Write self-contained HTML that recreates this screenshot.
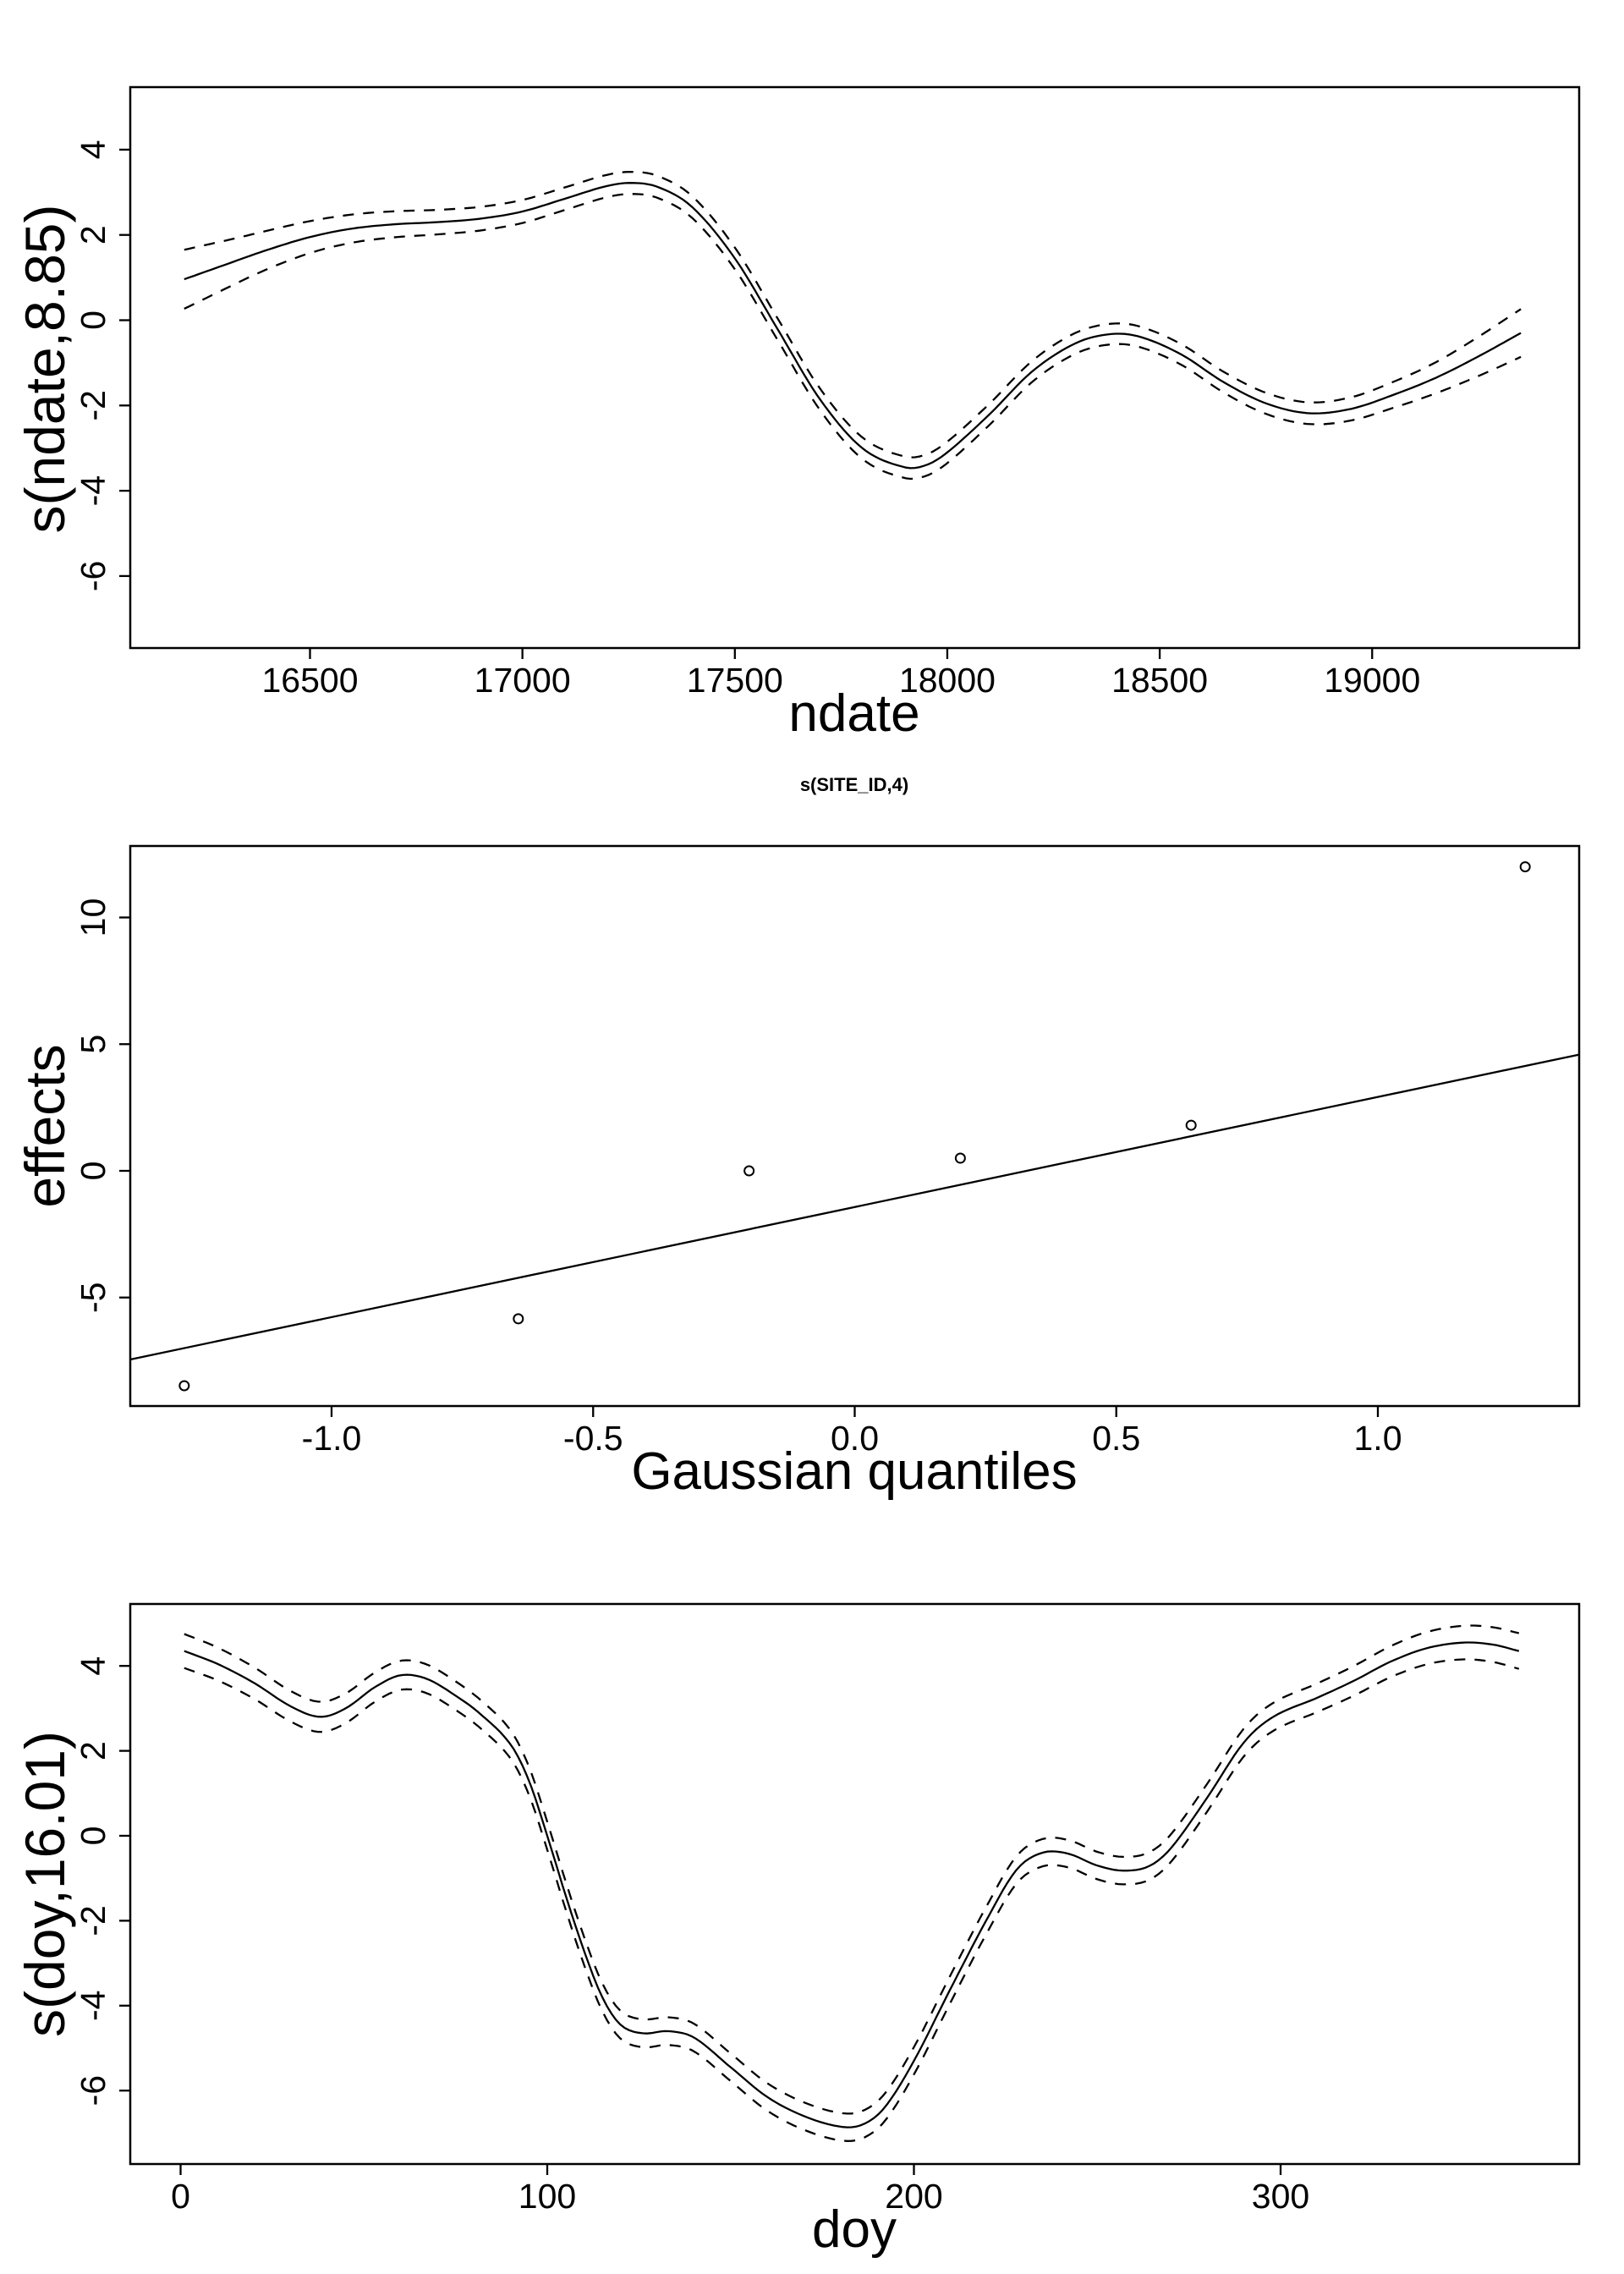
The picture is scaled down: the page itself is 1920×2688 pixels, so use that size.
<!DOCTYPE html>
<html><head><meta charset="utf-8">
<style>
html,body{margin:0;padding:0;background:#fff;}
svg{display:block;}
text{font-family:"Liberation Sans",Arial,sans-serif;fill:#000;}
</style></head>
<body>
<svg id="s" width="1920" height="2688" viewBox="0 0 1920 2688" xmlns="http://www.w3.org/2000/svg">
<rect x="0" y="0" width="1920" height="2688" fill="#fff"/>
<g id="g" fill="none" stroke="#000"></g>
<g id="t"></g>
</svg>
<script>
var NS="http://www.w3.org/2000/svg";
var G=document.getElementById('g'),T=document.getElementById('t');
function el(p,tag,a,txt){var e=document.createElementNS(NS,tag);for(var k in a)e.setAttribute(k,a[k]);if(txt!=null)e.textContent=txt;p.appendChild(e);return e;}
function line(x1,y1,x2,y2,w){el(G,'line',{x1:x1,y1:y1,x2:x2,y2:y2,'stroke-width':w||2.3});}
function text(x,y,s,size,anchor,rot,bold){var a={x:x,y:y,'font-size':size,'text-anchor':anchor||'middle'};if(rot)a.transform='rotate(-90 '+x+' '+y+')';if(bold)a['font-weight']='bold';el(T,'text',a,s);}
function interp(pts,x){
  for(var i=0;i<pts.length-1;i++){
    if(x<=pts[i+1][0]){
      var p0=pts[Math.max(i-1,0)],p1=pts[i],p2=pts[i+1],p3=pts[Math.min(i+2,pts.length-1)];
      var t=(x-p1[0])/(p2[0]-p1[0]);
      var m1=(p2[1]-p0[1])/(p2[0]-p0[0])*(p2[0]-p1[0]);
      var m2=(p3[1]-p1[1])/(p3[0]-p1[0])*(p2[0]-p1[0]);
      var t2=t*t,t3=t2*t;
      return (2*t3-3*t2+1)*p1[1]+(t3-2*t2+t)*m1+(-2*t3+3*t2)*p2[1]+(t3-t2)*m2;
    }
  }
  return pts[pts.length-1][1];
}
function curve(pts,se,X,Y,x0,x1){
  var d=['','',''];
  for(var k=0;k<=300;k++){
    var x=x0+(x1-x0)*k/300,v=interp(pts,x),s=interp(se,x);
    var c=(k?'L':'M');
    d[0]+=c+X(x).toFixed(1)+' '+Y(v).toFixed(1);
    d[1]+=c+X(x).toFixed(1)+' '+Y(v+s).toFixed(1);
    d[2]+=c+X(x).toFixed(1)+' '+Y(v-s).toFixed(1);
  }
  el(G,'path',{d:d[0],'stroke-width':2.3});
  el(G,'path',{d:d[1],'stroke-width':2.3,'stroke-dasharray':'13 11'});
  el(G,'path',{d:d[2],'stroke-width':2.3,'stroke-dasharray':'13 11'});
}
var L=154,R=1867;
function box(t,b){el(G,'rect',{x:L,y:t,width:R-L,height:b-t,'stroke-width':2.5});}
function yaxis(vals,Y,lab){vals.forEach(function(v){var y=Y(v);line(L-13,y,L,y);text(124,y,lab?lab(v):String(v),41,'middle',true);});}
function xaxis(vals,X,b,lab){vals.forEach(function(v){var x=X(v);line(x,b,x,b+13);text(x,b+52,lab?lab(v):String(v),41);});}

// ---------- Plot 1 ----------
(function(){
var T1=103,B1=766;box(T1,B1);
var X=function(d){return 366.5+(d-16500)*0.5023;},Y=function(v){return 378.5-v*50.4;};
yaxis([4,2,0,-2,-4,-6],Y);
xaxis([16500,17000,17500,18000,18500,19000],X,B1);
text(1010,864,'ndate',62);
text(76,436,'s(ndate,8.85)',66,'middle',true);
var pts=[[16204,0.96],[16300,1.3],[16400,1.65],[16500,1.95],[16600,2.15],[16700,2.25],[16800,2.3],[16900,2.38],[17000,2.55],[17100,2.85],[17200,3.15],[17260,3.22],[17320,3.12],[17400,2.65],[17500,1.45],[17600,-0.2],[17700,-1.85],[17800,-3.0],[17900,-3.45],[17950,-3.4],[18000,-3.1],[18100,-2.2],[18200,-1.2],[18300,-0.55],[18380,-0.33],[18450,-0.38],[18550,-0.8],[18650,-1.45],[18750,-1.95],[18850,-2.18],[18950,-2.08],[19050,-1.75],[19150,-1.35],[19250,-0.85],[19350,-0.3]];
var se=[[16204,0.69],[16400,0.45],[16600,0.33],[17000,0.27],[18000,0.25],[18800,0.25],[19100,0.33],[19350,0.56]];
curve(pts,se,X,Y,16204,19350);
})();

// ---------- Plot 2 ----------
(function(){
var T2=1000,B2=1662;box(T2,B2);
var X=function(q){return 1010.5+q*618.5;},Y=function(v){return 1384-v*29.95;};
yaxis([10,5,0,-5],Y);
xaxis([-1,-0.5,0,0.5,1],X,B2,function(v){return v.toFixed(1);});
text(1010,1760,'Gaussian quantiles',62);
text(76,1331,'effects',66,'middle',true);
text(1010,935,'s(SITE_ID,4)',22,'middle',false,true);
var y1=1607,slope=-0.2104;
line(L,y1,R,y1+slope*(R-L),2.3);
[[-1.2816,-8.48],[-0.643,-5.84],[-0.2019,0.0],[0.2019,0.5],[0.643,1.8],[1.2816,12.0]].forEach(function(p){
  el(G,'circle',{cx:X(p[0]),cy:Y(p[1]),r:5.5,'stroke-width':2});
});
})();

// ---------- Plot 3 ----------
(function(){
var T3=1896,B3=2558;box(T3,B3);
var X=function(d){return 213.5+d*4.335;},Y=function(v){return 2170-v*50.2;};
yaxis([4,2,0,-2,-4,-6],Y);
xaxis([0,100,200,300],X,B3);
text(1010,2656,'doy',62);
text(76,2227,'s(doy,16.01)',66,'middle',true);
var pts=[[1,4.35],[10,4.05],[20,3.6],[30,3.05],[38,2.8],[45,3.0],[53,3.5],[60,3.78],[67,3.7],[75,3.3],[82,2.85],[90,2.15],[95,1.3],[100,0.0],[105,-1.4],[110,-2.7],[115,-3.8],[120,-4.45],[126,-4.65],[133,-4.6],[140,-4.75],[150,-5.45],[160,-6.15],[170,-6.6],[180,-6.85],[186,-6.8],[192,-6.4],[200,-5.3],[210,-3.6],[220,-1.95],[228,-0.8],[235,-0.4],[242,-0.42],[250,-0.7],[257,-0.82],[264,-0.72],[270,-0.3],[280,0.9],[290,2.2],[298,2.8],[310,3.25],[320,3.65],[330,4.1],[340,4.42],[350,4.55],[358,4.5],[365,4.35]];
var se=[[1,0.4],[30,0.36],[100,0.33],[300,0.33],[340,0.38],[365,0.42]];
curve(pts,se,X,Y,1,365);
})();
</script>
</body></html>
